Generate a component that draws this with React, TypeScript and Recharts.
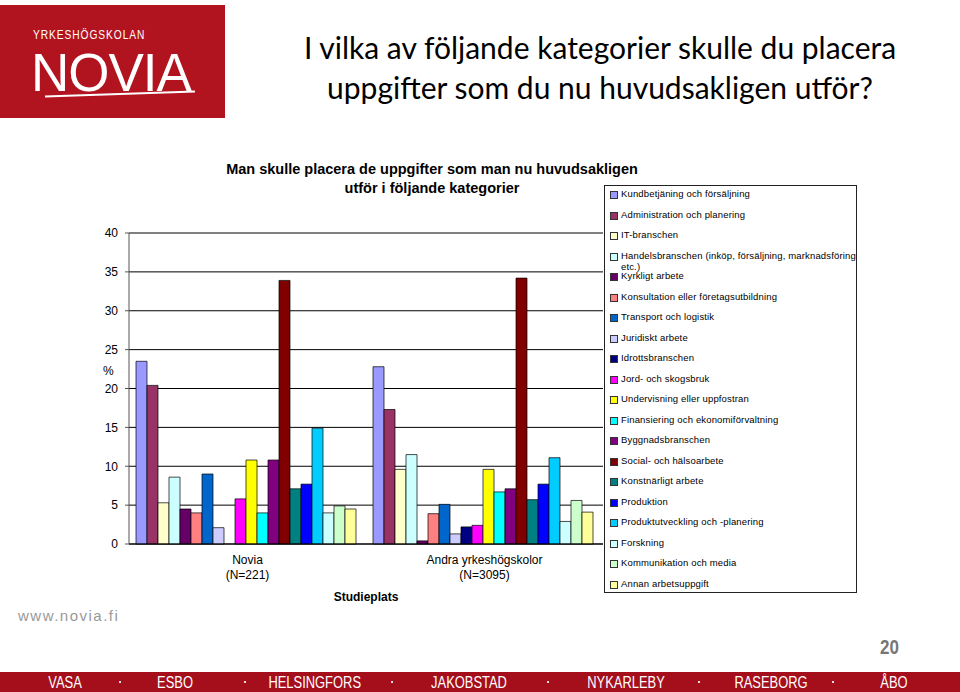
import { BarChart, Bar, XAxis, YAxis, CartesianGrid, Label } from "recharts";

const groups = ["Novia", "Andra yrkeshögskolor"];
const groupCounts = ["(N=221)", "(N=3095)"];

const categories = [
  "Kundbetjäning och försäljning",
  "Administration och planering",
  "IT-branschen",
  "Handelsbranschen (inköp, försäljning, marknadsföring etc.)",
  "Kyrkligt arbete",
  "Konsultation eller företagsutbildning",
  "Transport och logistik",
  "Juridiskt arbete",
  "Idrottsbranschen",
  "Jord- och skogsbruk",
  "Undervisning eller uppfostran",
  "Finansiering och ekonomiförvaltning",
  "Byggnadsbranschen",
  "Social- och hälsoarbete",
  "Konstnärligt arbete",
  "Produktion",
  "Produktutveckling och -planering",
  "Forskning",
  "Kommunikation och media",
  "Annan arbetsuppgift",
];

const noviaValues = [23.5, 20.4, 5.3, 8.6, 4.5, 4.0, 9.0, 2.1, 0, 5.8, 10.8, 4.0, 10.8, 33.9, 7.1, 7.7, 14.9, 4.0, 4.9, 4.5];
const andraValues = [22.8, 17.3, 9.6, 11.5, 0.4, 3.9, 5.1, 1.3, 2.2, 2.4, 9.6, 6.7, 7.1, 34.2, 5.7, 7.7, 11.1, 2.9, 5.6, 4.1];

const yTicks = [0, 5, 10, 15, 20, 25, 30, 35, 40];

const COLORS = [
  "#9999FF", "#993366", "#FFFFCC", "#CCFFFF", "#660066",
  "#FF8080", "#0066CC", "#CCCCFF", "#000080", "#FF00FF",
  "#FFFF00", "#00FFFF", "#800080", "#800000", "#008080",
  "#0000FF", "#00CCFF", "#CCFFFF", "#CCFFCC", "#FFFF99",
];

const cities = ["VASA", "ESBO", "HELSINGFORS", "JAKOBSTAD", "NYKARLEBY", "RASEBORG", "ÅBO"];
const cityX = [65, 175, 314, 469, 626, 771, 894];

const data = groups.map((g, gi) => {
  const row: Record<string, string | number> = { name: g, count: groupCounts[gi] };
  const vals = gi === 0 ? noviaValues : andraValues;
  categories.forEach((c, i) => (row["s" + i] = vals[i]));
  return row;
});

const ARIAL = "'Liberation Sans', Arial, sans-serif";

function GroupTick(props: any) {
  const { x, y, payload, index } = props;
  return (
    <text x={x} y={y} textAnchor="middle" fontFamily={ARIAL} fontSize={12} fill="#000">
      <tspan x={x} dy={12}>{payload.value}</tspan>
      <tspan x={x} dy={15}>{groupCounts[index]}</tspan>
    </text>
  );
}

export default function App() {
  return (
    <div style={{ position: "absolute", left: 0, top: 0, width: 960, height: 692, background: "#fff", overflow: "hidden", fontFamily: ARIAL }}>
      {/* logo */}
      <div style={{ position: "absolute", left: 0, top: 5, width: 225, height: 113, background: "#B2141F" }}>
        <div style={{ position: "absolute", left: 33, top: 24, color: "#fff", fontSize: 12, lineHeight: "13px", letterSpacing: 1.1, transform: "scaleX(0.85)", transformOrigin: "left" }}>YRKESHÖGSKOLAN</div>
        <div style={{ position: "absolute", left: 31, top: 46, color: "#fff", fontSize: 53, lineHeight: "44px", letterSpacing: -1, transform: "scaleX(1.0)", transformOrigin: "left" }}>NOVIA</div>
        <div style={{ position: "absolute", left: 45, top: 88, width: 150, height: 2, background: "#fff", transform: "rotate(-2deg)" }} />
      </div>

      {/* slide title */}
      <div style={{ position: "absolute", left: 270, top: 27, width: 660, textAlign: "center", fontFamily: "Lato, sans-serif", fontSize: 30, lineHeight: "40px", color: "#000" }}>
        I vilka av följande kategorier skulle du placera
        <br />
        uppgifter som du nu huvudsakligen utför?
      </div>

      {/* chart title */}
      <div style={{ position: "absolute", left: 182, top: 160, width: 500, textAlign: "center", fontSize: 14.5, fontWeight: "bold", lineHeight: "19px", color: "#000" }}>
        Man skulle placera de uppgifter som man nu huvudsakligen
        <br />
        utför i följande kategorier
      </div>

      <div style={{ position: "absolute", left: 103, top: 364, fontSize: 12, color: "#000" }}>%</div>

      <div style={{ position: "absolute", left: 60, top: 150 }}>
        <BarChart width={560} height={470} data={data} margin={{ top: 83, right: 17, bottom: 26, left: 29 }} barCategoryGap={7} barGap={0}>
          <CartesianGrid vertical={false} stroke="#000" strokeWidth={1} />
          <XAxis dataKey="name" height={50} axisLine={{ stroke: "#000" }} tickLine={false} tick={<GroupTick />} interval={0}>
            <Label value="Studieplats" position="bottom" offset={-2} style={{ fontFamily: ARIAL, fontSize: 12, fontWeight: "bold", fill: "#000" }} />
          </XAxis>
          <YAxis width={40} domain={[0, 40]} ticks={yTicks} interval={0} axisLine={{ stroke: "#555" }} tickLine={{ stroke: "#555" }} tickSize={4} tickMargin={7} tick={{ fontFamily: ARIAL, fontSize: 12, fill: "#000" }} />
          {categories.map((c, i) => (
            <Bar key={c} dataKey={"s" + i} name={c} fill={COLORS[i]} stroke="#000" strokeWidth={0.7} isAnimationActive={false} />
          ))}
        </BarChart>
      </div>

      {/* legend */}
      <div style={{ position: "absolute", left: 604, top: 185, width: 251, height: 406, border: "1px solid #222", background: "#fff" }}>
        {categories.map((c, i) => (
          <div key={c} style={{ position: "absolute", left: 5, top: 2 + i * 20.5, width: 246, display: "flex", alignItems: "flex-start" }}>
            <div style={{ width: 6, height: 6, marginTop: 3, border: "1px solid #333", background: COLORS[i], flex: "none" }} />
            <div style={{ marginLeft: 3, fontSize: 9.5, lineHeight: "11px", color: "#000", letterSpacing: 0.15 }}>{c}</div>
          </div>
        ))}
      </div>

      {/* footer */}
      <div style={{ position: "absolute", left: 18, top: 607, fontSize: 15, color: "#999", letterSpacing: 1.5 }}>www.novia.fi</div>
      <div style={{ position: "absolute", left: 880, top: 636, fontSize: 20, fontWeight: "bold", color: "#777", transform: "scaleX(0.85)", transformOrigin: "left" }}>20</div>
      <div style={{ position: "absolute", left: 0, top: 672, width: 960, height: 20, background: "#A50E1B" }}>
        {cities.map((c, i) => (
          <div key={c} style={{ position: "absolute", left: cityX[i] - 60, width: 120, top: 1, textAlign: "center", color: "#fff", fontSize: 17, lineHeight: "19px", transform: "scaleX(0.76)" }}>{c}</div>
        ))}
        {cityX.slice(0, -1).map((x, i) => (
          <div key={i} style={{ position: "absolute", left: (x + cityX[i + 1]) / 2 - 1, top: 9, width: 2, height: 2, background: "#ddd" }} />
        ))}
      </div>
    </div>
  );
}
